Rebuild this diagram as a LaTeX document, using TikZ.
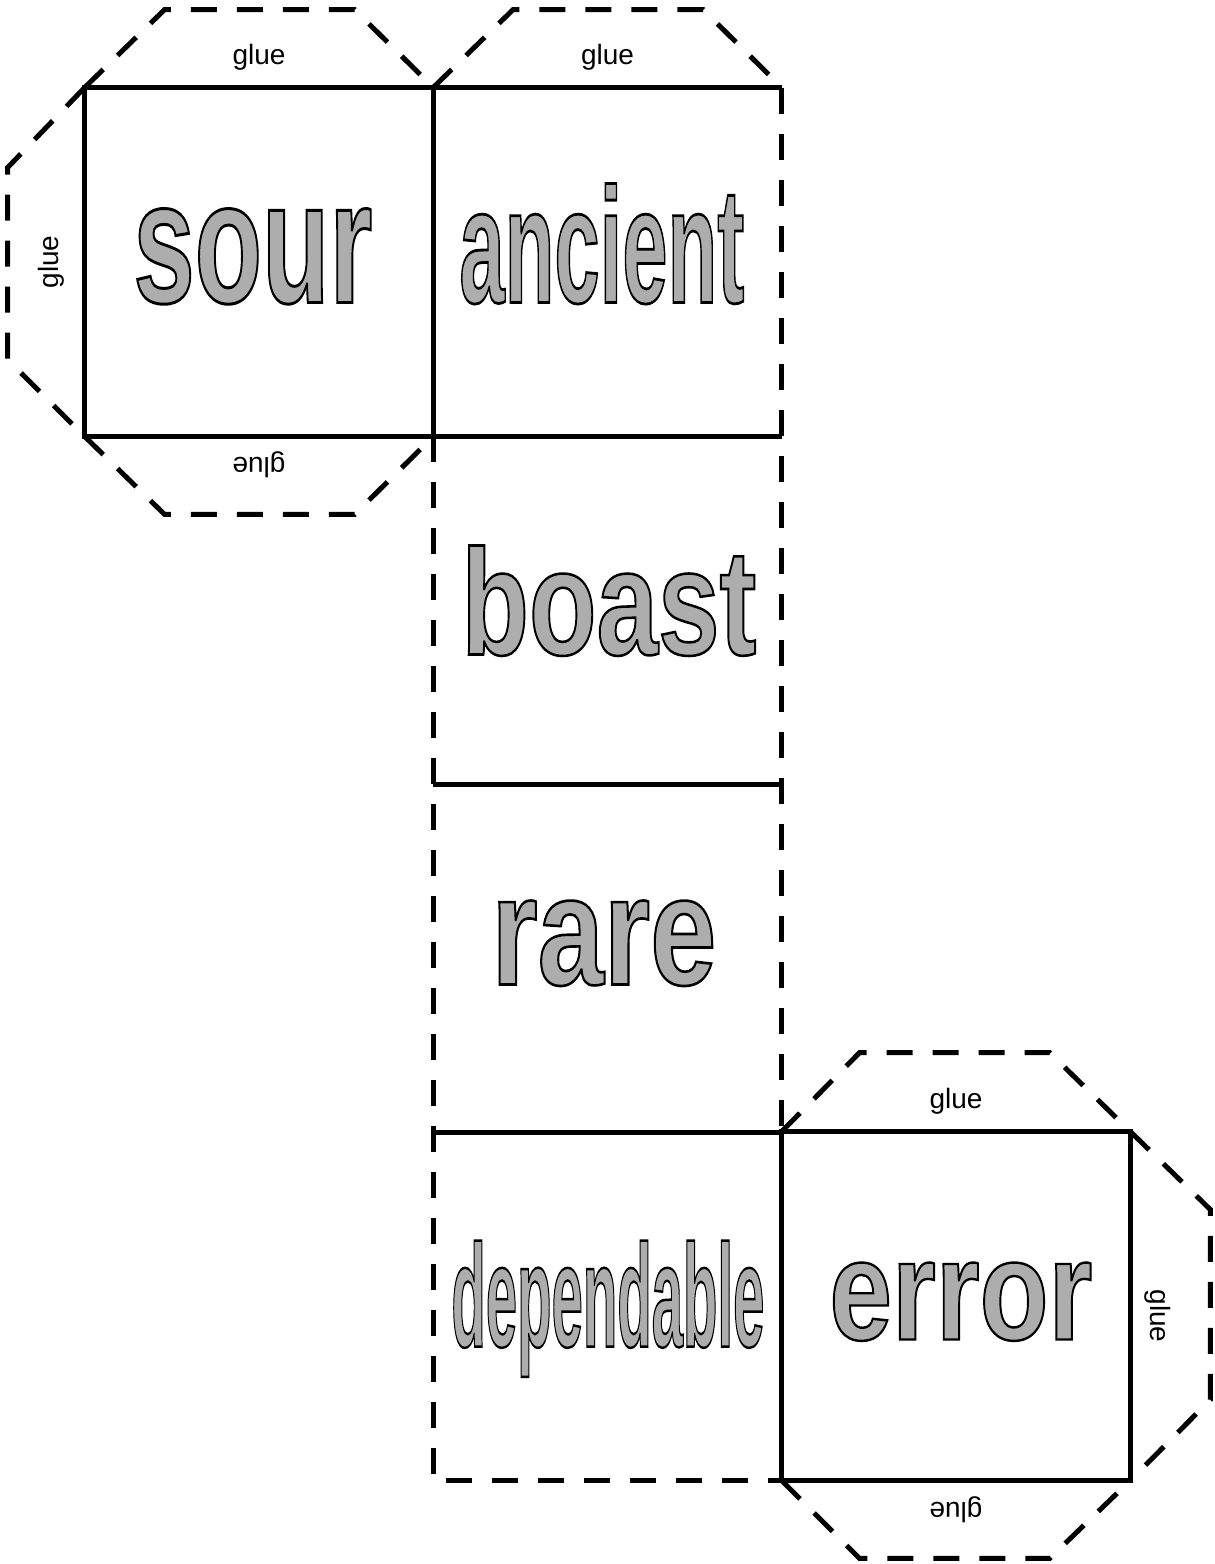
\documentclass[tikz,border=0pt]{standalone}
\usepackage{fontspec}
\setmainfont{Liberation Sans}
\usetikzlibrary{calc}

\definecolor{wordgray}{gray}{0.68}
% grey letters with a black outline
\newcommand\outlineword[1]{\special{pdf:code 2 Tr 1.7 w 0 G}#1\special{pdf:code 0 Tr}}
\newcommand\faceword[3]{\resizebox{#1}{#2}{\fontsize{100}{100}\selectfont\bfseries\outlineword{#3}}}

\begin{document}
\begin{tikzpicture}[x=0.5pt, y=-0.5pt,
    face/.style={minimum width=174pt, minimum height=174pt, inner sep=0pt},
    side/.style={line width=2.2pt},
    tab/.style={line width=2.5pt, dash pattern=on 13pt off 10pt},
    gluetext/.style={font=\fontsize{14}{16}\selectfont, inner sep=0pt, anchor=base},
    word/.style={anchor=base west, inner sep=0pt, text=wordgray}]
    \useasboundingbox (0,0) rectangle (1215,1564);

    \node[face] (sour) at (259, 262) {};
    \node[face] (ancient) at (607.5, 262) {};
    \node[face] (boast) at (607.5, 610) {};
    \node[face] (rare) at (607.5, 958) {};
    \node[face] (dependable) at (607.5, 1306) {};
    \node[face] (error) at (956, 1306) {};

    % folds
    \draw[side] (sour.north west) rectangle (sour.south east);
    \draw[side] (sour.north east) -- (ancient.north east);
    \draw[side] (ancient.south west) -- (ancient.south east);
    \draw[side] (boast.south west) -- (boast.south east);
    \draw[side] (rare.south west) -- (rare.south east);
    \draw[side] (error.north west) rectangle (error.south east);

    % cuts
    \draw[tab] (ancient.north east) -- (rare.south east);
    \draw[tab] (boast.north west) -- (dependable.south west) -- (dependable.south east);

    % glue tabs
    \draw[tab] (sour.north west) -- ++(80,-78) -- ++(190,0) -- (sour.north east);
    \draw[tab] (sour.north west) -- ++(-77,80) -- ++(0,192) -- (sour.south west);
    \draw[tab] (sour.south west) -- ++(80,78) -- ++(190,0) -- (sour.south east);
    \draw[tab] (ancient.north west) -- ++(80,-78) -- ++(190,0) -- (ancient.north east);
    \draw[tab] (error.north west) -- ++(78,-79) -- ++(190,0) -- (error.north east);
    \draw[tab] (error.north east) -- ++(80,78) -- ++(0,190) -- (error.south east);
    \draw[tab] (error.south west) -- ++(78,78) -- ++(190,0) -- (error.south east);

    \node[gluetext] (g1) at ($(sour.north)+(0,-23)$) {glue};
    \node[gluetext, rotate=90] (g2) at ($(sour.west)+(-26,0)$) {glue};
    \node[gluetext, rotate=180] (g3) at ($(sour.south)+(0,21)$) {glue};
    \node[gluetext] (g4) at ($(ancient.north)+(0,-23)$) {glue};
    \node[gluetext] (g5) at ($(error.north)+(0,-23)$) {glue};
    \node[gluetext, rotate=-90] (g6) at ($(error.east)+(20,10)$) {glue};
    \node[gluetext, rotate=180] (g7) at ($(error.south)+(0,22)$) {glue};

    % words
    \node[word] (w1) at (133, 302.5) {\faceword{119.5pt}{47pt}{sour}};
    \node[word] (w2) at (459, 302.5) {\faceword{142.5pt}{59.5pt}{ancient}};
    \node[word] (w3) at (461, 654.5) {\faceword{147.5pt}{54.5pt}{boast}};
    \node[word] (w4) at (491, 984.5) {\faceword{112.5pt}{42pt}{rare}};
    \node[word] (w5) at (451, 1346.5) {\faceword{156.5pt}{53pt}{dependable}};
    \node[word] (w6) at (829, 1339.5) {\faceword{131.5pt}{38.5pt}{error}};
\end{tikzpicture}
\end{document}
